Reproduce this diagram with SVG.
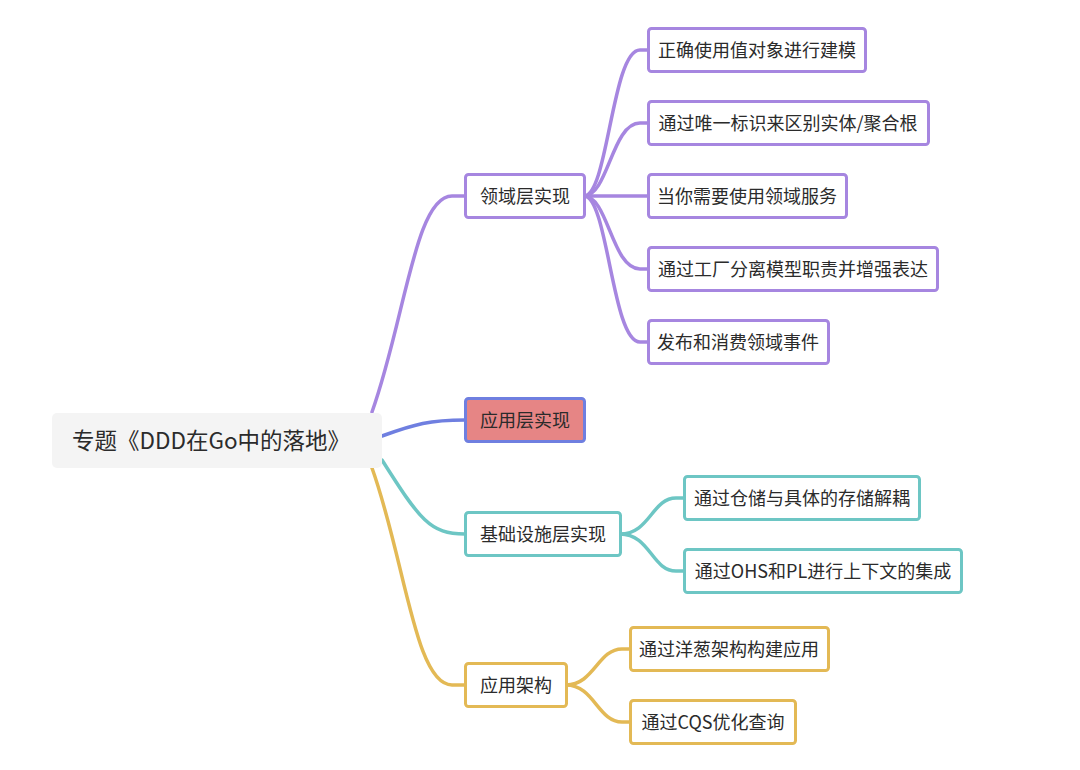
<svg xmlns="http://www.w3.org/2000/svg" width="1080" height="770" viewBox="0 0 1080 770">
<style>
text{font-family:"Noto Sans CJK SC","Noto Sans",sans-serif;fill:#2b2b2b;text-anchor:middle;dominant-baseline:central}
.n{font-size:18px}
.r{font-size:22.5px;text-anchor:start}
.b{stroke-width:3;fill:#fff}
.p{stroke:#a686e0}
.t{stroke:#6dc6c4}
.g{stroke:#e3b955}
.c{fill:none;stroke-width:3.5;stroke-linecap:round}
</style>
<rect width="1080" height="770" fill="#fff"/>
<g id="connectors">
<path class="c p" d="M372,412 C405,320 415,196 452,196 L465,196"/>
<path class="c" stroke="#6f7fe0" d="M382,436 C415,424 430,420 465,420"/>
<path class="c t" d="M382,460 C420,520 430,534 465,534"/>
<path class="c g" d="M372,468 C405,560 415,685 452,685 L465,685"/>
<path class="c p" d="M584,196 C608,196 612,50 640,50 L648,50"/>
<path class="c p" d="M584,196 C608,196 612,123 640,123 L648,123"/>
<path class="c p" d="M584,196 L648,196"/>
<path class="c p" d="M584,196 C608,196 612,269 640,269 L648,269"/>
<path class="c p" d="M584,196 C608,196 612,342 640,342 L648,342"/>
<path class="c t" d="M620,534 C650,534 652,498 676,498 L684,498"/>
<path class="c t" d="M620,534 C650,534 652,571 676,571 L684,571"/>
<path class="c g" d="M566,685 C594,685 598,649 622,649 L630,649"/>
<path class="c g" d="M566,685 C594,685 598,722 622,722 L630,722"/>
</g>
<g id="root"><rect x="52" y="413" width="330" height="55" rx="5" fill="#f4f4f4"/><text class="r" x="72" y="439">专题《DDD在Go中的落地》</text></g>
<g id="domain"><rect class="b p" x="465.5" y="174.5" width="119" height="43" rx="3"/><text class="n" x="525" y="195">领域层实现</text></g>
<g id="app"><rect x="465.5" y="398.5" width="119" height="43" rx="3" fill="#e68585" stroke="#6f7fe0" stroke-width="3"/><text class="n" x="525" y="419">应用层实现</text></g>
<g id="infra"><rect class="b t" x="465.5" y="512.5" width="155" height="43" rx="3"/><text class="n" x="543" y="533">基础设施层实现</text></g>
<g id="arch"><rect class="b g" x="465.5" y="663.5" width="101" height="43" rx="3"/><text class="n" x="516" y="684">应用架构</text></g>
<g id="d1"><rect class="b p" x="648.5" y="28.5" width="217" height="43" rx="3"/><text class="n" x="757" y="49">正确使用值对象进行建模</text></g>
<g id="d2"><rect class="b p" x="648.5" y="101.5" width="280" height="43" rx="3"/><text class="n" x="788" y="122">通过唯一标识来区别实体/聚合根</text></g>
<g id="d3"><rect class="b p" x="648.5" y="174.5" width="198" height="43" rx="3"/><text class="n" x="747" y="195">当你需要使用领域服务</text></g>
<g id="d4"><rect class="b p" x="648.5" y="247.5" width="289" height="43" rx="3"/><text class="n" x="793" y="268">通过工厂分离模型职责并增强表达</text></g>
<g id="d5"><rect class="b p" x="648.5" y="320.5" width="180" height="43" rx="3"/><text class="n" x="738" y="341">发布和消费领域事件</text></g>
<g id="i1"><rect class="b t" x="684.5" y="476.5" width="235" height="43" rx="3"/><text class="n" x="802" y="497">通过仓储与具体的存储解耦</text></g>
<g id="i2"><rect class="b t" x="684.5" y="549.5" width="277" height="43" rx="3"/><text class="n" x="823" y="570">通过OHS和PL进行上下文的集成</text></g>
<g id="a1"><rect class="b g" x="630.5" y="627.5" width="198" height="43" rx="3"/><text class="n" x="729" y="648">通过洋葱架构构建应用</text></g>
<g id="a2"><rect class="b g" x="630.5" y="700.5" width="165" height="43" rx="3"/><text class="n" x="713" y="721">通过CQS优化查询</text></g>
</svg>
